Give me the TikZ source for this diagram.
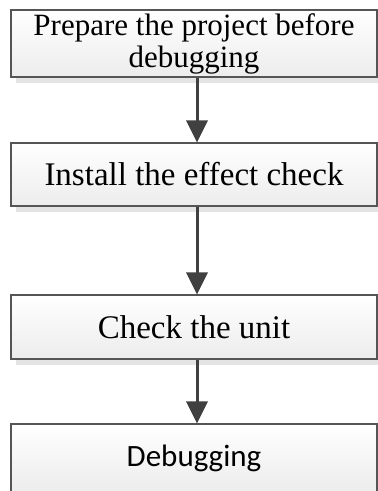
\documentclass[tikz,border=0pt]{standalone}
\usepackage{fontspec}
\setmainfont{Liberation Serif}
\newfontfamily\calfont{Carlito}
\usetikzlibrary{arrows.meta,shadows}
\definecolor{boxline}{RGB}{85,85,85}
\definecolor{arrowcol}{RGB}{64,64,64}
\definecolor{shadowcol}{RGB}{228,228,228}
\tikzset{
  flowbox/.style={rectangle, draw=boxline, line width=1.1pt,
    top color=white, bottom color={rgb,255:red,236;green,236;blue,236},
    minimum width=366pt, inner sep=0pt, align=center,
    font=\fontsize{33}{33}\selectfont,
    drop shadow={shadow xshift=4.5pt, shadow yshift=-5.5pt, fill=shadowcol, opacity=1}},
  flowarrow/.style={draw=arrowcol, line width=3pt,
    -{Triangle[width=21pt,length=22pt]}, color=arrowcol, shorten <=0pt, shorten >=0pt}
}
\begin{document}
\begin{tikzpicture}[x=1pt,y=-1pt]
\useasboundingbox (0,0) rectangle (378,491);
\clip (0,0) rectangle (378,491);
\node[flowbox, minimum height=67pt, font=\fontsize{31}{32}\selectfont] (b1) at (194,43.5) {Prepare the project before\\debugging};
\node[flowbox, minimum height=63pt] (b2) at (194,174.5) {Install the effect check};
\node[flowbox, minimum height=64pt] (b3) at (194,327) {Check the unit};
\node[flowbox, minimum height=68pt, font=\calfont\fontsize{31}{31}\selectfont] (b4) at (194,458) {Debugging};
\draw[flowarrow] ([xshift=3pt]b1.south) -- ([xshift=3pt]b2.north);
\draw[flowarrow] ([xshift=3pt]b2.south) -- ([xshift=3pt]b3.north);
\draw[flowarrow] ([xshift=3pt]b3.south) -- ([xshift=3pt]b4.north);
\end{tikzpicture}
\end{document}
